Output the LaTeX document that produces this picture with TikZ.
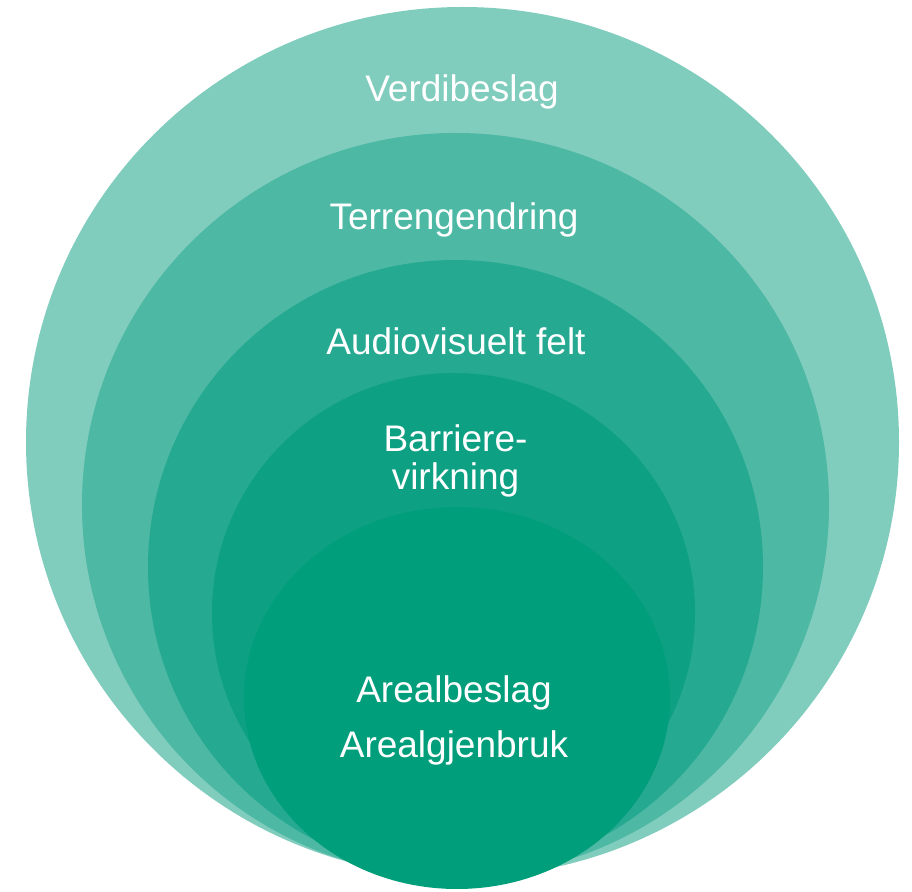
\documentclass[tikz,border=0pt]{standalone}
\usepackage{fontspec}
\setmainfont{Liberation Sans}
\usetikzlibrary{shapes.geometric}

\definecolor{ringA}{RGB}{128,204,189}
\definecolor{ringB}{RGB}{77,184,164}
\definecolor{ringC}{RGB}{38,169,145}
\definecolor{ringD}{RGB}{13,160,131}
\definecolor{ringE}{RGB}{0,158,123}

\begin{document}
\begin{tikzpicture}[x=1pt,y=1pt,
  ring/.style={ellipse,inner sep=0pt,draw=none},
  lbl/.style={text=white,anchor=base,inner sep=0pt,font=\fontsize{37}{39}\selectfont}]
\useasboundingbox (0,0) rectangle (912,891);

% rings, outermost first
\node[ring,fill=ringA,minimum width=873pt,minimum height=870pt] (R1) at (462.5,449) {};
\node[ring,fill=ringB,minimum width=747pt,minimum height=744pt] (R2) at (455.5,386) {};
\node[ring,fill=ringC,minimum width=615pt,minimum height=614pt] (R3) at (455.5,324) {};
\node[ring,fill=ringD,minimum width=483pt,minimum height=480pt] (R4) at (453.5,278) {};
\node[ring,fill=ringE,minimum width=426pt,minimum height=382pt] (R5) at (457,193) {};

% labels
\node[lbl] (verdi) at (462,789) {Verdibeslag};
\node[lbl] (terreng) at (454,661) {Terrengendring};
\node[lbl] (audio) at (456,536) {Audiovisuelt felt};
\node[lbl] (barriere) at (455.5,439) {Barriere-};
\node[lbl] (virkning) at (455.5,401) {virkning};
\node[lbl] (areal) at (454,188) {Arealbeslag};
\node[lbl] (gjenbruk) at (454,133) {Arealgjenbruk};

\end{tikzpicture}
\end{document}
